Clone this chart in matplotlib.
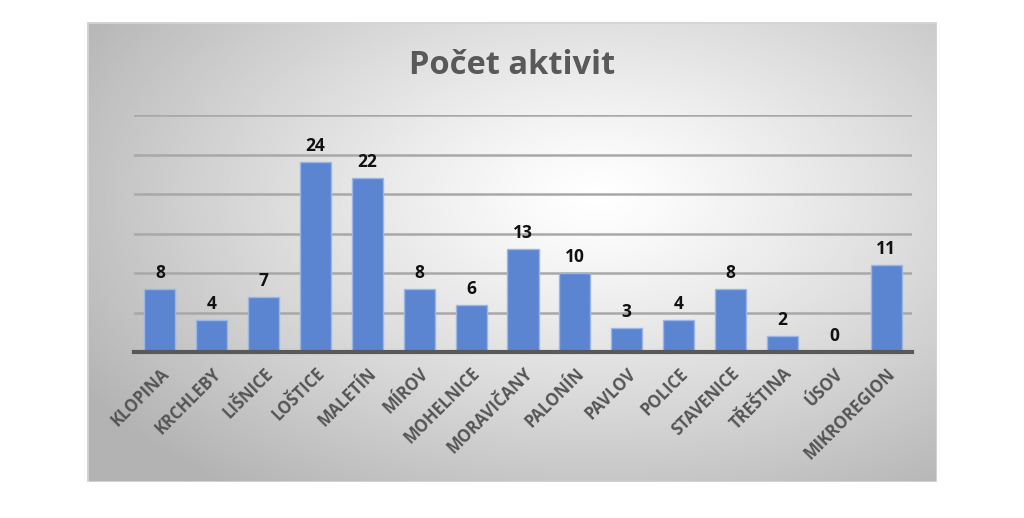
import numpy as np
import matplotlib.pyplot as plt
from matplotlib.patches import Rectangle

plt.rcParams['font.family'] = ['Open Sans', 'DejaVu Sans']

# data
obce = ["KLOPINA", "KRCHLEBY", "LIŠNICE", "LOŠTICE", "MALETÍN", "MÍROV",
        "MOHELNICE", "MORAVIČANY", "PALONÍN", "PAVLOV", "POLICE",
        "STAVENICE", "TŘEŠTINA", "ÚSOV", "MIKROREGION"]
aktivity = [8, 4, 7, 24, 22, 8, 6, 13, 10, 3, 4, 8, 2, 0, 11]
yticks = [0, 5, 10, 15, 20, 25, 30]

W, H = 1024, 518
fig = plt.figure(figsize=(W / 100, H / 100), dpi=100)
fig.patch.set_facecolor("white")

# panel s radialnim prechodem
px0, py0, px1, py1 = 87, 22, 937, 482
bg = fig.add_axes([px0 / W, 1 - py1 / H, (px1 - px0) / W, (py1 - py0) / H])
gx, gy = np.meshgrid(np.linspace(0, 1, 400), np.linspace(0, 1, 220))
r = np.sqrt(((gx - 0.6) / 0.72) ** 2 + ((gy - 0.38) / 0.8) ** 2)
r = np.clip(r, 0, 1)
shade = 1.0 - 0.3 * r ** 1.2
bg.imshow(shade, cmap="gray", vmin=0, vmax=1, aspect="auto",
          extent=[0, 1, 1, 0], interpolation="bilinear")
bg.add_patch(Rectangle((0, 0), 1, 1, transform=bg.transAxes, fill=False,
                       edgecolor="#d4d4d4", linewidth=2))
bg.set_axis_off()

ax = fig.add_axes([134 / W, 1 - 352 / H, (912 - 134) / W, (352 - 115) / H])
ax.patch.set_alpha(0)
x = np.arange(len(obce))
bars = ax.bar(x, aktivity, width=0.6, color="#5b85d0", edgecolor="#9bb5e4",
              linewidth=1, zorder=3)
for xi, v in zip(x, aktivity):
    ax.annotate(str(v), (xi, v), xytext=(0, 5), textcoords="offset points",
                ha="center", va="bottom", fontsize=12.5, fontweight="bold",
                color="#111111")

ax.set_xlim(-0.5, len(obce) - 0.5)
ax.set_ylim(0, 30)
ax.set_yticks(yticks)
ax.yaxis.grid(True, color="#a8a8a8", linewidth=1.8, zorder=0)
ax.tick_params(axis="y", left=False, labelleft=False)
ax.tick_params(axis="x", length=0, pad=9)
ax.set_xticks(x)
ax.set_xticklabels(obce, rotation=45, ha="right", rotation_mode="anchor",
                   fontsize=12, fontweight="bold", color="#555555")
for s in ["top", "right", "left"]:
    ax.spines[s].set_visible(False)
ax.spines["bottom"].set_color("#595959")
ax.spines["bottom"].set_linewidth(3)
ax.spines["bottom"].set_zorder(4)

fig.text(512 / W, 1 - 65 / H, "Počet aktivit", ha="center", va="center",
         fontsize=23.5, fontweight="bold", color="#595959")

fig.savefig("out.png", dpi=100)
